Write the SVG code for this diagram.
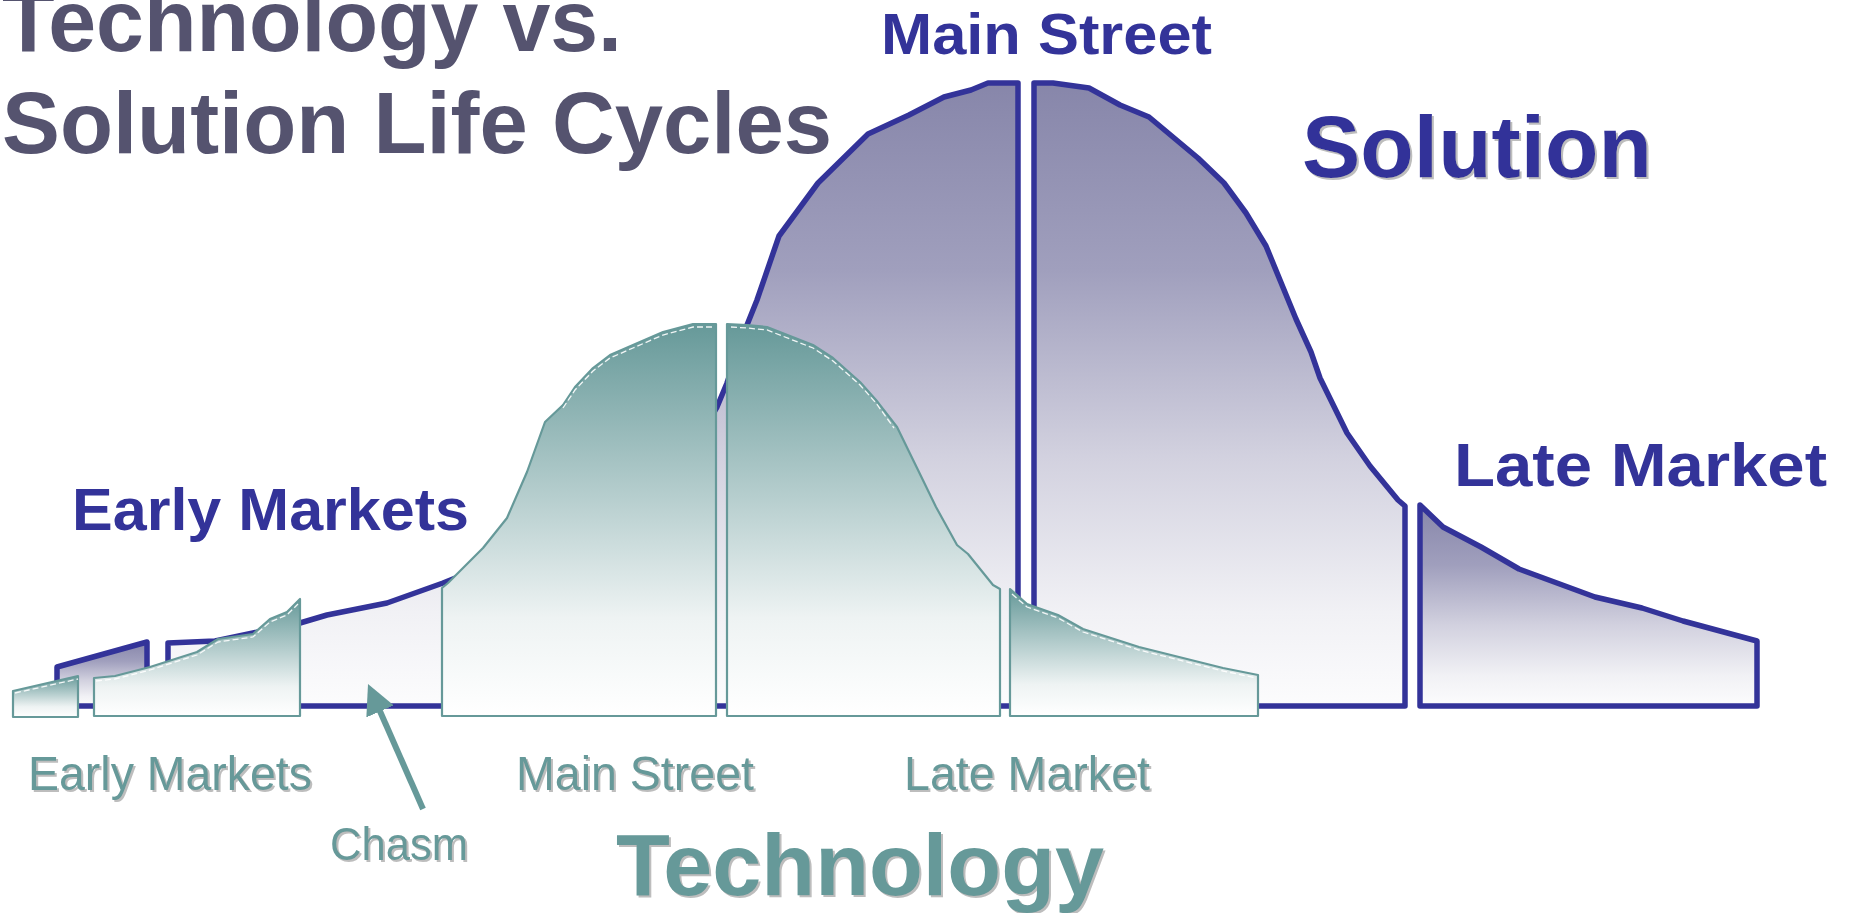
<svg xmlns="http://www.w3.org/2000/svg" width="1852" height="913" viewBox="0 0 1852 913">
<style>
.sol{stroke:#333399;stroke-width:5.5;stroke-linejoin:round;fill:url(#gSol)}
.tec{stroke:#669999;stroke-width:2.2;stroke-linejoin:round;fill:url(#gTec)}
.hl{fill:none;stroke:#ffffff;stroke-width:1.3;stroke-dasharray:6 3;opacity:0.9}
.title{font-family:"Liberation Sans",Arial,sans-serif;font-weight:bold;fill:#55536f}
.blue{font-family:"Liberation Sans",Arial,sans-serif;font-weight:bold;fill:#333399}
.teal{font-family:"Liberation Sans",Arial,sans-serif;fill:#669999}
.tealb{font-family:"Liberation Sans",Arial,sans-serif;font-weight:bold;fill:#669999}
.arrow{stroke:#669999;stroke-width:6;fill:none}
</style>
<defs>
<linearGradient id="gSol" x1="0" y1="0" x2="0" y2="1">
<stop offset="0" stop-color="#8786aa"/>
<stop offset="0.3" stop-color="#a09fbd"/>
<stop offset="0.6" stop-color="#d2d1df"/>
<stop offset="0.85" stop-color="#f1f1f5"/>
<stop offset="1" stop-color="#fcfcfd"/>
</linearGradient>
<linearGradient id="gTec" x1="0" y1="0" x2="0" y2="1">
<stop offset="0" stop-color="#669999"/>
<stop offset="0.75" stop-color="#eef3f3"/>
<stop offset="1" stop-color="#ffffff"/>
</linearGradient>
<filter id="sh" x="-5%" y="-10%" width="115%" height="130%">
<feDropShadow dx="2" dy="2" stdDeviation="0.5" flood-color="#bdbdbd" flood-opacity="1"/>
</filter>
<marker id="ah" viewBox="0 0 10 10" refX="6.7" refY="5" markerWidth="30" markerHeight="30" markerUnits="userSpaceOnUse" orient="auto">
<path d="M0,0 L10,5 L0,10 Z" fill="#669999"/>
</marker>
</defs>
<rect width="1852" height="913" fill="#ffffff"/>

<g id="title">
<text class="title" x="2" y="51" font-size="87" textLength="620" lengthAdjust="spacingAndGlyphs">Technology vs.</text>
<text class="title" x="2" y="153" font-size="87" textLength="830" lengthAdjust="spacingAndGlyphs">Solution Life Cycles</text>
</g>

<g id="solution-curve">
<path id="sol-early" class="sol" d="M57,706 L57,667 L147,642 L147,706 Z"/>
<path id="sol-main-left" class="sol" d="M168,706 L168,643 L215,641 L253,633 L300,623 L327,615 L387,603 L443,583 L500,560 L600,520 L680,470 L717,407 L727,383 L745,330 L757,300 L779,236 L818,183 L868,134 L909,115 L944,97 L971,90 L988,83 L1018,83 L1018,706 Z"/>
<path id="sol-main-right" class="sol" d="M1034,706 L1034,83 L1053,83 L1089,88 L1120,105 L1149,117 L1198,158 L1224,183 L1246,213 L1266,246 L1296,319 L1311,352 L1320,378 L1347,433 L1370,466 L1398,500 L1405,506 L1405,706 Z"/>
<path id="sol-late" class="sol" d="M1420,706 L1420,505 L1443,527 L1481,547 L1519,569 L1595,597 L1642,608 L1683,621 L1757,641 L1757,706 Z"/>
</g>

<g id="technology-curve">
<g id="tec-early-a">
<path class="tec" d="M13,717 L13,691 L78,676 L78,717 Z"/>
<polyline class="hl" points="15,693 78,679"/>
</g>
<g id="tec-early-b">
<path class="tec" d="M94,716 L94,678 L115,676 L150,667 L197,652 L218,639 L253,634 L270,619 L287,612 L300,599 L300,716 Z"/>
<polyline class="hl" points="96,681 115,679 150,670 197,655 218,642 253,637 270,622 287,615 298,604"/>
</g>
<g id="tec-main-left">
<path class="tec" d="M442,716 L442,588 L448,583 L483,548 L507,518 L527,472 L545,422 L563,405 L575,387 L593,368 L610,355 L633,345 L663,332 L693,324 L716,324 L716,716 Z"/>
<polyline class="hl" points="563,408 575,390 593,371 610,358 633,348 663,335 693,327 712,327"/>
</g>
<g id="tec-main-right">
<path class="tec" d="M727,716 L727,324 L747,325 L767,327 L813,345 L833,358 L860,382 L876,400 L897,427 L918,470 L936,507 L957,545 L968,554 L993,585 L1000,589 L1000,716 Z"/>
<polyline class="hl" points="731,327 747,328 767,330 813,348 833,361 860,385 876,403 894,428"/>
</g>
<g id="tec-late">
<path class="tec" d="M1010,716 L1010,589 L1027,604 L1058,615 L1083,629 L1139,647 L1223,668 L1258,675 L1258,716 Z"/>
<polyline class="hl" points="1012,594 1027,607 1058,618 1083,632 1139,650 1223,671 1256,678"/>
</g>
</g>

<g id="solution-labels">
<text id="lbl-sol-main" class="blue" x="881" y="54" font-size="57" textLength="331" lengthAdjust="spacingAndGlyphs">Main Street</text>
<text id="lbl-solution" class="blue" x="1302" y="177" font-size="87" textLength="350" lengthAdjust="spacingAndGlyphs" filter="url(#sh)">Solution</text>
<text id="lbl-sol-early" class="blue" x="72" y="530" font-size="59" textLength="397" lengthAdjust="spacingAndGlyphs">Early Markets</text>
<text id="lbl-sol-late" class="blue" x="1454" y="486" font-size="61" textLength="373" lengthAdjust="spacingAndGlyphs">Late Market</text>
</g>

<g id="technology-labels">
<text id="lbl-tec-early" class="teal" x="28" y="790" font-size="48" textLength="284" lengthAdjust="spacingAndGlyphs" filter="url(#sh)">Early Markets</text>
<text id="lbl-tec-main" class="teal" x="516" y="790" font-size="48" textLength="238" lengthAdjust="spacingAndGlyphs" filter="url(#sh)">Main Street</text>
<text id="lbl-tec-late" class="teal" x="904" y="790" font-size="48" textLength="246" lengthAdjust="spacingAndGlyphs" filter="url(#sh)">Late Market</text>
<text id="lbl-chasm" class="teal" x="330" y="860" font-size="46" textLength="138" lengthAdjust="spacingAndGlyphs" filter="url(#sh)">Chasm</text>
<text id="lbl-technology" class="tealb" x="616" y="895" font-size="88" textLength="488" lengthAdjust="spacingAndGlyphs" filter="url(#sh)">Technology</text>
</g>

<g id="connectors">
<line class="arrow" x1="423" y1="809" x2="372" y2="693" marker-end="url(#ah)"/>
</g>
</svg>
